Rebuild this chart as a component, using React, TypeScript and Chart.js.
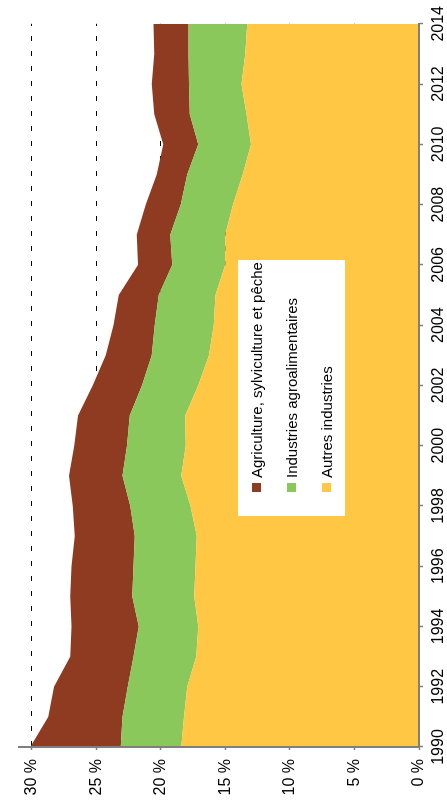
import { useEffect, useRef } from "react";
import { Chart, registerables } from "chart.js";

Chart.register(...registerables);

// ---- Data (percent of total, stacked from bottom to top) ----
const years = [
  1990, 1991, 1992, 1993, 1994, 1995, 1996, 1997, 1998, 1999, 2000, 2001,
  2002, 2003, 2004, 2005, 2006, 2007, 2008, 2009, 2010, 2011, 2012, 2013, 2014,
];
const autresIndustries = [
  18.4, 18.2, 17.95, 17.25, 17.1, 17.4, 17.3, 17.2, 17.7, 18.4, 18.05, 18.1,
  17.1, 16.25, 15.9, 15.75, 15.0, 15.0, 14.4, 13.65, 13.0, 13.35, 13.75, 13.45, 13.3,
];
const industriesAgro = [
  4.7, 4.75, 4.6, 4.85, 4.6, 4.8, 4.8, 4.8, 4.65, 4.55, 4.55, 4.3,
  4.35, 4.45, 4.55, 4.4, 4.1, 4.25, 4.05, 4.3, 4.1, 4.4, 4.05, 4.4, 4.55,
];
const agriculture = [
  7.0, 5.75, 5.7, 4.9, 5.2, 4.8, 4.8, 4.65, 4.45, 4.15, 4.1, 4.0,
  3.8, 3.55, 3.2, 3.1, 2.65, 2.6, 2.7, 2.35, 2.7, 2.75, 2.9, 2.65, 2.7,
];
const seriesLabels = [
  "Autres industries",
  "Industries agroalimentaires",
  "Agriculture, sylviculture et pêche",
];
const seriesColors = ["#FFC743", "#8BC85B", "#8E3B22"];
const seriesValues = [autresIndustries, industriesAgro, agriculture];
const yearStep = 2;
const percentStep = 5;
const percentMax = 31;

const W = 812;
const H = 447;
const FONT = "'Liberation Sans', Arial, Helvetica, sans-serif";
const AXIS_GRAY = "#7f7f7f";

const boxLegend = {
  id: "boxLegend",
  afterDraw(chart: any) {
    const ctx = chart.ctx as CanvasRenderingContext2D;
    const ds = chart.data.datasets;
    ctx.save();
    ctx.fillStyle = "#ffffff";
    ctx.fillRect(296, 238, 256, 107);
    ctx.font = `15px ${FONT}`;
    ctx.textBaseline = "alphabetic";
    ctx.textAlign = "left";
    for (let i = 0; i < ds.length; i++) {
      const d = ds[ds.length - 1 - i];
      const cy = 256.5 + i * 35;
      ctx.fillStyle = d.backgroundColor;
      ctx.fillRect(320, cy - 4.5, 9, 9);
      ctx.fillStyle = "#000";
      ctx.fillText(d.label, 334, cy + 5);
    }
    ctx.restore();
  },
};

export default function App() {
  const ref = useRef<HTMLCanvasElement>(null);

  useEffect(() => {
    const datasets = seriesValues.map((vals, i) => ({
      label: seriesLabels[i],
      data: years.map((yr, j) => ({ x: yr, y: vals[j] })),
      backgroundColor: seriesColors[i],
      borderColor: seriesColors[i],
      borderWidth: 0,
      pointRadius: 0,
      tension: 0,
      fill: i === 0 ? "origin" : "-1",
    }));

    const chart = new Chart(ref.current as HTMLCanvasElement, {
      type: "line",
      data: { datasets },
      options: {
        animation: false,
        responsive: false,
        devicePixelRatio: 1,
        layout: { padding: { top: 9, right: 17, left: 0, bottom: 0 } },
        plugins: {
          legend: { display: false },
          tooltip: { enabled: false },
        },
        scales: {
          x: {
            type: "linear",
            min: years[0],
            max: years[years.length - 1],
            afterFit: (s: any) => {
              s.height = 28;
            },
            grid: {
              drawOnChartArea: false,
              tickLength: 4,
              tickColor: AXIS_GRAY,
              tickWidth: 1.5,
            },
            border: { color: AXIS_GRAY, width: 2, z: 1 },
            ticks: {
              stepSize: yearStep,
              autoSkip: false,
              maxRotation: 0,
              padding: 6,
              color: "#000",
              font: { family: FONT, size: 16 },
              callback: (v: any) => String(v),
            },
          },
          y: {
            stacked: true,
            min: 0,
            max: percentMax,
            afterFit: (s: any) => {
              s.width = 65;
            },
            grid: {
              color: "#000",
              lineWidth: 1,
              tickLength: 3,
              tickColor: AXIS_GRAY,
              tickWidth: 1.5,
            },
            border: { color: AXIS_GRAY, width: 2, dash: [5, 10], z: 1 },
            ticks: {
              stepSize: percentStep,
              includeBounds: false,
              padding: 9,
              color: "#000",
              font: { family: FONT, size: 16 },
              callback: (v: any) => `${v} %`,
            },
          },
        },
      } as any,
      plugins: [boxLegend],
    });
    return () => chart.destroy();
  }, []);

  return (
    <div
      style={{
        position: "fixed",
        left: 0,
        top: 0,
        width: W,
        height: H,
        background: "#fff",
        transformOrigin: "0 0",
        transform: `translateY(${W}px) rotate(-90deg)`,
      }}
    >
      <canvas
        ref={ref}
        width={W}
        height={H}
        style={{ display: "block", width: W, height: H }}
      />
    </div>
  );
}
